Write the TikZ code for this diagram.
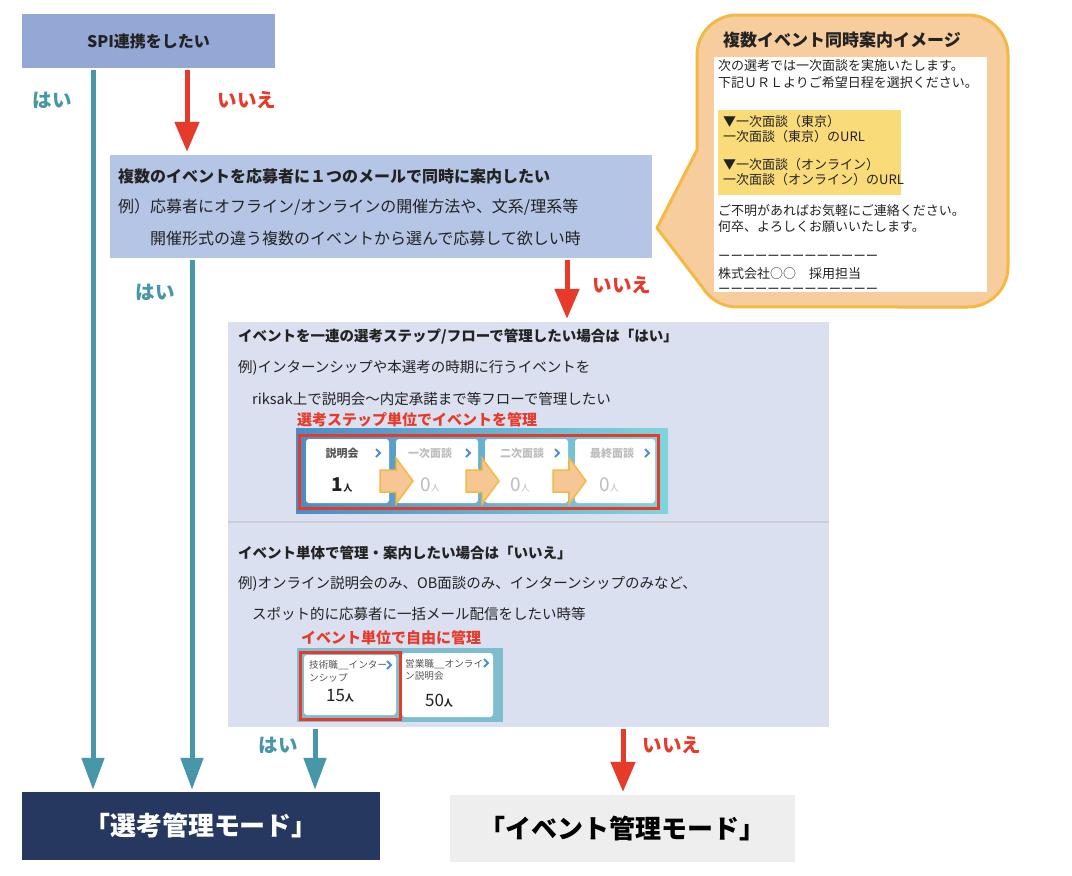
\documentclass[tikz,border=0pt]{standalone}
\usepackage{fontspec}
\setmainfont{Noto Sans CJK JP}
\usetikzlibrary{arrows.meta,calc}
\definecolor{spiblue}{HTML}{94A8D6}
\definecolor{q2blue}{HTML}{B4C5E5}
\definecolor{q3blue}{HTML}{DAE0F0}
\definecolor{tealc}{HTML}{4797A8}
\definecolor{redc}{HTML}{E63A2A}
\definecolor{navy}{HTML}{26385F}
\definecolor{modegray}{HTML}{EEEEEE}
\definecolor{peach}{HTML}{F7CD9D}
\definecolor{calloutedge}{HTML}{F4B942}
\definecolor{mailyellow}{HTML}{F9DB7A}
\definecolor{txtc}{HTML}{222222}
\definecolor{chevblue}{HTML}{4A8FD8}
\definecolor{fadegray}{HTML}{BDBDBD}
\definecolor{cardteal}{HTML}{7DBDCE}
\definecolor{gradA}{HTML}{4C8CC4}
\definecolor{gradB}{HTML}{80D4DC}
\definecolor{arrowfill}{HTML}{F6C795}
\definecolor{sepgray}{HTML}{C9CED9}
\definecolor{cardtxt}{HTML}{555555}
\newcommand\fsz[1]{\fontsize{#1}{#1}\selectfont}
\begin{document}
\begin{tikzpicture}[x=1pt,y=-1pt,
  box/.style={draw=none, inner sep=0pt},
  t/.style={inner sep=0pt, anchor=west, text=txtc},
  mail/.style={inner sep=0pt, anchor=west, text=txtc, font=\fsz{13pt}},
  yesline/.style={draw=tealc, line width=5pt, -{Triangle[width=22pt,length=32pt]}, shorten <=2pt, shorten >=2pt},
  noline/.style={draw=redc, line width=5pt, -{Triangle[width=24pt,length=30pt]}, shorten <=2pt, shorten >=3pt},
  yeslabel/.style={inner sep=0pt, text=tealc, font=\fsz{19.5pt}\bfseries},
  nolabel/.style={inner sep=0pt, text=redc, font=\fsz{19.5pt}\bfseries},
  card/.style={fill=white, rounded corners=3pt},
  chev/.style={draw=chevblue, line width=1.8pt},
  blockarrow/.style={fill=arrowfill, draw=calloutedge, line width=1.5pt, line join=miter},
  steptitle/.style={inner sep=0pt, font=\fsz{11pt}\bfseries},
  evtxt/.style={inner sep=0pt, anchor=west, text=cardtxt, font=\fsz{9.6pt}},
]
\useasboundingbox[fill=white] (0,0) rectangle (1072,876);

% top question
\node[box, fill=spiblue, minimum width=253pt, minimum height=54pt, font=\fsz{16pt}\bfseries, text=txtc] (spi) at (148.5,41) {SPI連携をしたい};

% second question
\node[box, fill=q2blue, minimum width=542pt, minimum height=103pt] (q2) at (381,206.5) {};
\node[t, font=\fsz{16pt}\bfseries] (q2a) at (118,176) {複数のイベントを応募者に１つのメールで同時に案内したい};
\node[t, font=\fsz{16pt}] (q2b) at (118,207) {例）応募者にオフライン/オンラインの開催方法や、文系/理系等};
\node[t, font=\fsz{16pt}] (q2c) at (150,238) {開催形式の違う複数のイベントから選んで応募して欲しい時};

% callout
\draw[fill=peach, draw=calloutedge, line width=3pt, line join=round]
  (703,288) arc[start angle=148.3, end angle=90, radius=40] -- (968,307)
  arc[start angle=90, end angle=0, radius=40] -- (1008,55)
  arc[start angle=0, end angle=-90, radius=40] -- (737,15)
  arc[start angle=-90, end angle=-180, radius=40] -- (697,150) -- (657,228) -- cycle;
\node[inner sep=0pt, font=\fsz{17pt}\bfseries, text=txtc] (ctitle) at (842,40) {複数イベント同時案内イメージ};
\fill[white] (714,57) rectangle (987,292);
\fill[mailyellow] (718,110) rectangle (901,195);
\node[mail] (m1) at (718,66) {次の選考では一次面談を実施いたします。};
\node[mail] (m2) at (718,83) {下記ＵＲＬよりご希望日程を選択ください。};
\node[mail] (m3) at (723,122) {▼一次面談（東京）};
\node[mail] (m4) at (723,137) {一次面談（東京）のURL};
\node[mail] (m5) at (723,165) {▼一次面談（オンライン）};
\node[mail] (m6) at (723,180) {一次面談（オンライン）のURL};
\node[mail] (m7) at (718,211) {ご不明があればお気軽にご連絡ください。};
\node[mail] (m8) at (718,227) {何卒、よろしくお願いいたします。};
\node[mail, font=\fsz{12.3pt}] (m9) at (718,258) {ーーーーーーーーーーーーー};
\node[mail] (m10) at (718,274) {株式会社○○　採用担当};
\begin{scope}
  \clip (714,57) rectangle (987,292);
  \node[mail, font=\fsz{12.3pt}] (m11) at (718,291) {ーーーーーーーーーーーーー};
\end{scope}

% third question
\node[box, fill=q3blue, minimum width=601pt, minimum height=405pt] (q3) at (528.5,524.5) {};
\draw[sepgray, line width=1.5pt] (q3.west |- 0,522) -- (q3.east |- 0,522);
\node[t, font=\fsz{14.5pt}\bfseries] (q3a) at (238,337) {イベントを一連の選考ステップ/フローで管理したい場合は「はい」};
\node[t, font=\fsz{14.5pt}] (q3b) at (238,368) {例)インターンシップや本選考の時期に行うイベントを};
\node[t, font=\fsz{14.5pt}] (q3c) at (252,399) {riksak上で説明会～内定承諾まで等フローで管理したい};
\node[t, text=redc, font=\fsz{15pt}\bfseries] (q3r1) at (297,420) {選考ステップ単位でイベントを管理};

% step cards
\shade[left color=gradA, right color=gradB] (296,428) rectangle (668,513);
\fill[card] (306,439) rectangle (389,503);
\fill[card] (396,439) rectangle (478,503);
\fill[card] (485,439) rectangle (568,503);
\fill[card] (575,439) rectangle (655,503);
\draw[redc, line width=3pt] (299,435) rectangle (658,508);
\node[steptitle, text=cardtxt] (s1) at (342,453) {説明会};
\node[steptitle, text=fadegray] (s2) at (430,453) {一次面談};
\node[steptitle, text=fadegray] (s3) at (522,453) {二次面談};
\node[steptitle, text=fadegray] (s4) at (612,453) {最終面談};
\draw[chev] (376,449) -- (380,453) -- (376,457);
\draw[chev] (466,449) -- (470,453) -- (466,457);
\draw[chev] (555,449) -- (559,453) -- (555,457);
\draw[chev] (645,449) -- (649,453) -- (645,457);
\node[inner sep=0pt, text=txtc] (n1) at (342,485) {\fsz{19pt}\bfseries 1\fsz{9pt}人};
\node[inner sep=0pt, text=fadegray] (n2) at (430,485) {\fsz{19pt}0\fsz{9pt}人};
\node[inner sep=0pt, text=fadegray] (n3) at (520,485) {\fsz{19pt}0\fsz{9pt}人};
\node[inner sep=0pt, text=fadegray] (n4) at (609,485) {\fsz{19pt}0\fsz{9pt}人};
\draw[blockarrow] (380,470) -- (396,470) -- (396,458) -- (413,481) -- (396,504) -- (396,492) -- (380,492) -- cycle;
\draw[blockarrow] (466,470) -- (482,470) -- (482,458) -- (499,481) -- (482,504) -- (482,492) -- (466,492) -- cycle;
\draw[blockarrow] (553,470) -- (569,470) -- (569,458) -- (586,481) -- (569,504) -- (569,492) -- (553,492) -- cycle;

% lower half of third question
\node[t, font=\fsz{14.5pt}\bfseries] (q3d) at (238,553) {イベント単体で管理・案内したい場合は「いいえ」};
\node[t, font=\fsz{14.5pt}] (q3e) at (238,584) {例)オンライン説明会のみ、OB面談のみ、インターンシップのみなど、};
\node[t, font=\fsz{14.5pt}] (q3f) at (252,614) {スポット的に応募者に一括メール配信をしたい時等};
\node[t, text=redc, font=\fsz{15pt}\bfseries] (q3r2) at (301,638) {イベント単位で自由に管理};

% event cards
\fill[cardteal] (297,648) rectangle (503,722);
\fill[card] (304,655) rectangle (396,715);
\fill[card] (402,653) rectangle (493,717);
\draw[redc, line width=3pt] (300,652) rectangle (400,719);
\node[evtxt] (e1a) at (309,665) {技術職\_\_インター};
\node[evtxt] (e1b) at (309,678) {ンシップ};
\node[inner sep=0pt, text=txtc] (e1n) at (340,696) {\fsz{17pt}15\fsz{9pt}\bfseries 人};
\node[evtxt] (e2a) at (405,664) {営業職\_\_オンライ};
\node[evtxt] (e2b) at (405,676) {ン説明会};
\node[inner sep=0pt, text=txtc] (e2n) at (439,701) {\fsz{17pt}50\fsz{9pt}\bfseries 人};
\draw[chev] (387,661) -- (391,665) -- (387,669);
\draw[chev] (484,659) -- (488,663) -- (484,667);

% result modes
\node[box, fill=navy, minimum width=358pt, minimum height=68pt, text=white, font=\fsz{26pt}\bfseries] (sel) at (201,826) {「選考管理モード」};
\node[box, fill=modegray, minimum width=345pt, minimum height=67pt, text=black, font=\fsz{26pt}\bfseries] (evm) at (622.5,828.5) {「イベント管理モード」};

% connectors
\coordinate (x1) at (93,0);
\coordinate (x2) at (187,0);
\coordinate (x3) at (192,0);
\coordinate (x4) at (567,0);
\coordinate (x5) at (315,0);
\coordinate (x6) at (623,0);
\draw[yesline] (spi.south -| x1) -- (sel.north -| x1);
\draw[noline] (spi.south -| x2) -- (q2.north -| x2);
\draw[yesline] (q2.south -| x3) -- (sel.north -| x3);
\draw[noline] (q2.south -| x4) -- (q3.north -| x4);
\draw[yesline] (q3.south -| x5) -- (sel.north -| x5);
\draw[noline] (q3.south -| x6) -- (evm.north -| x6);

% labels
\node[yeslabel] (l1) at (52,100) {はい};
\node[nolabel] (l2) at (247,100) {いいえ};
\node[yeslabel] (l3) at (155,292) {はい};
\node[nolabel] (l4) at (622,285) {いいえ};
\node[yeslabel] (l5) at (278,745) {はい};
\node[nolabel] (l6) at (672,745) {いいえ};
\end{tikzpicture}
\end{document}
